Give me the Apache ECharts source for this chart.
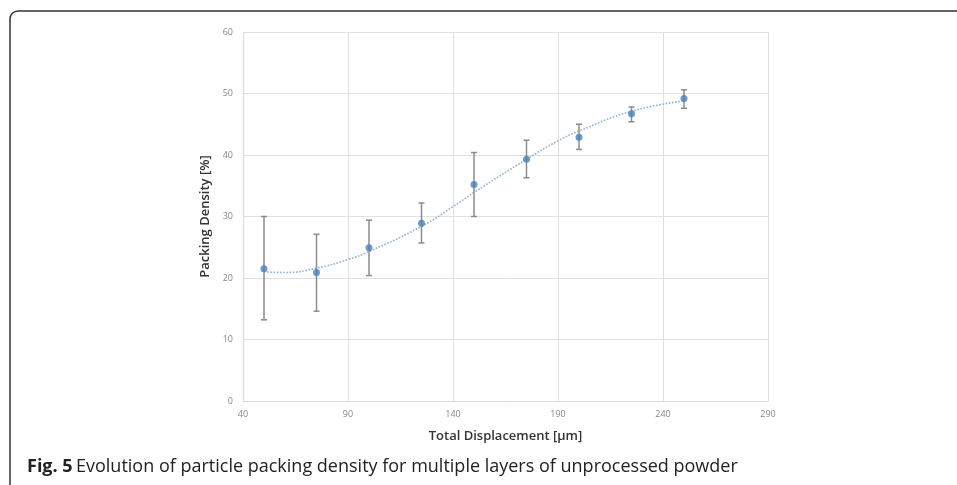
<!DOCTYPE html>
<html>
<head>
<meta charset="utf-8">
<script src="https://cdn.jsdelivr.net/npm/echarts@6/dist/echarts.min.js"></script>
<style>
  html, body { margin: 0; padding: 0; background: #fff; }
  #chart { width: 957px; height: 485px; }
</style>
</head>
<body>
<div id="chart"></div>
<script>
// measured points (mean, error bar low / high)
const displacement = [50, 75, 100, 125, 150, 175, 200, 225, 250];
const density = [21.5, 20.9, 24.9, 28.9, 35.2, 39.3, 42.9, 46.7, 49.2];
const errLow = [13.2, 14.6, 20.4, 25.7, 30.0, 36.3, 40.9, 45.4, 47.6];
const errHigh = [30.0, 27.1, 29.4, 32.2, 40.4, 42.4, 45.0, 47.8, 50.6];

// trendline
const trendX = [50, 60, 75, 90, 100, 125, 140, 150, 175, 190, 200, 225, 250];
const trendY = [21.0, 20.9, 21.6, 23.0, 24.3, 28.4, 31.6, 33.9, 39.3, 42.3, 43.9, 47.1, 48.8];

const xTicks = { min: 40, max: 290, interval: 50 };
const yTicks = { min: 0, max: 60, interval: 10 };

const chart = echarts.init(document.getElementById("chart"));

const points = displacement.map((x, i) => [x, density[i]]);
const bars = displacement.map((x, i) => [x, errLow[i], errHigh[i]]);
const trend = trendX.map((x, i) => [x, trendY[i]]);

const labelFont = "'Open Sans', sans-serif";

chart.setOption({
  animation: false,
  grid: { left: 243, right: 189, top: 32, bottom: 84 },
  xAxis: {
    type: "value",
    min: xTicks.min,
    max: xTicks.max,
    interval: xTicks.interval,
    name: "Total Displacement [µm]",
    nameLocation: "middle",
    nameGap: 29,
    nameTextStyle: { fontFamily: labelFont, fontSize: 13, fontWeight: 600, color: "#333" },
    axisLine: { show: true, lineStyle: { color: "#d9d9d9", width: 1 } },
    axisTick: { show: false },
    axisLabel: { fontFamily: labelFont, fontSize: 9, color: "#888", margin: 9 },
    splitLine: { show: true, lineStyle: { color: "#e0e0e0", width: 1 } },
  },
  yAxis: {
    type: "value",
    min: yTicks.min,
    max: yTicks.max,
    interval: yTicks.interval,
    name: "Packing Density [%]",
    nameLocation: "middle",
    nameGap: 26,
    nameTextStyle: { fontFamily: labelFont, fontSize: 13, fontWeight: 600, color: "#333" },
    axisLine: { show: true, lineStyle: { color: "#d9d9d9", width: 1 } },
    axisTick: { show: false },
    axisLabel: { fontFamily: labelFont, fontSize: 9, color: "#888", margin: 10 },
    splitLine: { show: true, lineStyle: { color: "#e0e0e0", width: 1 } },
  },
  series: [
    {
      // polynomial trendline, dotted
      type: "line",
      data: trend,
      smooth: true,
      symbol: "none",
      z: 1,
      lineStyle: { color: "#8fb0d8", width: 1.6, type: "dotted" },
    },
    {
      type: "custom",
      data: bars,
      z: 2,
      renderItem: function (params, api) {
        const x = api.value(0);
        const lo = api.coord([x, api.value(1)]);
        const hi = api.coord([x, api.value(2)]);
        const cap = 3;
        const style = { stroke: "#8c8c8c", lineWidth: 1.5 };
        return {
          type: "group",
          children: [
            { type: "line", shape: { x1: lo[0], y1: lo[1], x2: hi[0], y2: hi[1] }, style: style },
            { type: "line", shape: { x1: hi[0] - cap, y1: hi[1], x2: hi[0] + cap, y2: hi[1] }, style: style },
            { type: "line", shape: { x1: lo[0] - cap, y1: lo[1], x2: lo[0] + cap, y2: lo[1] }, style: style },
          ],
        };
      },
    },
    {
      type: "scatter",
      data: points,
      symbol: "circle",
      symbolSize: 7,
      z: 3,
      itemStyle: { color: "#4a7ebf" },
    },
  ],
  graphic: [
    {
      // figure frame, runs off the right and bottom edges
      type: "rect",
      shape: { x: 10, y: 11, width: 1000, height: 520, r: 8 },
      style: { fill: "none", stroke: "#333", lineWidth: 1.5 },
      silent: true,
    },
    {
      type: "text",
      left: 27,
      top: 458,
      style: {
        rich: {
          b: { fontFamily: labelFont, fontSize: 18, fontWeight: "bold", fill: "#222" },
          n: { fontFamily: labelFont, fontSize: 18, fill: "#222" },
        },
        text: "{b|Fig. 5} {n|Evolution of particle packing density for multiple layers of unprocessed powder}",
      },
    },
  ],
});
</script>
</body>
</html>
